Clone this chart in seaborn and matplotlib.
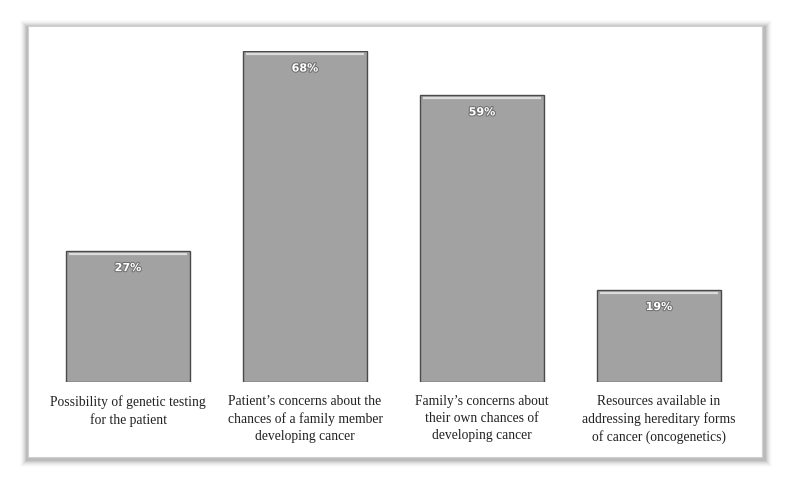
import matplotlib
matplotlib.use("Agg")
import matplotlib.pyplot as plt
import matplotlib.patheffects as pe
from matplotlib.patches import Rectangle
import seaborn as sns
import pandas as pd

categories = [
    "Possibility of genetic testing\nfor the patient",
    "Patient\u2019s concerns about the\nchances of a family member\ndeveloping cancer",
    "Family\u2019s concerns about\ntheir own chances of\ndeveloping cancer",
    "Resources available in\naddressing hereditary forms\nof cancer (oncogenetics)",
]
values = [27, 68, 59, 19]
labels = ["27%", "68%", "59%", "19%"]

df = pd.DataFrame({"cat": categories, "val": values})

sns.set_theme(style="white")
fig = plt.figure(figsize=(7.9, 4.85), dpi=100)
fig.patch.set_facecolor("white")

# shadowed panel
W, H = 790, 485
for i, a in enumerate([0.015, 0.02, 0.03, 0.04, 0.05, 0.06, 0.08]):
    off = 8 - i
    fig.patches.append(Rectangle(((28 - off) / W, (485 - 458 - off - 2) / H),
                                 (734 + 2 * off + 2) / W, (431 + 2 * off) / H,
                                 transform=fig.transFigure, facecolor="black",
                                 alpha=a, edgecolor="none", zorder=0))
fig.patches.append(Rectangle((28 / W, (485 - 458) / H), 734 / W, 431 / H,
                             transform=fig.transFigure, facecolor="white",
                             edgecolor="#d0d0d0", lw=0.8, zorder=1))

ax = fig.add_axes([39.5 / W, 102 / H, 708 / W, 331 / H])
ax.set_zorder(2)
ax.patch.set_alpha(0)
sns.barplot(data=df, x="cat", y="val", ax=ax, color="#a2a2a2", width=0.70,
            edgecolor="#4a4a4a", linewidth=1.0, saturation=1)
ax.set_ylim(0, 68)
ax.set_xlim(-0.5, 3.5)

# bevel highlight at bar tops and labels
for i, v in enumerate(values):
    ax.hlines(v - 0.7, i - 0.335, i + 0.335, color="#dcdcdc", lw=1.6, zorder=5)
    ax.text(i, v - 3.6, labels[i], ha="center", va="center", color="white",
            fontsize=8, fontweight="bold", family="DejaVu Sans",
            path_effects=[pe.withStroke(linewidth=1.5, foreground="#707070")], zorder=6)

ax.set_xlabel("")
ax.set_ylabel("")
ax.set_yticks([])
ax.tick_params(axis="x", length=0, pad=9)
for lab in ax.get_xticklabels():
    lab.set_family("Liberation Serif")
    lab.set_fontsize(9.8)
    lab.set_color("#222222")
    lab.set_linespacing(1.38)
    lab.set_va("top")
for s in ax.spines.values():
    s.set_visible(False)

fig.savefig("out.png", dpi=100, facecolor="white")
